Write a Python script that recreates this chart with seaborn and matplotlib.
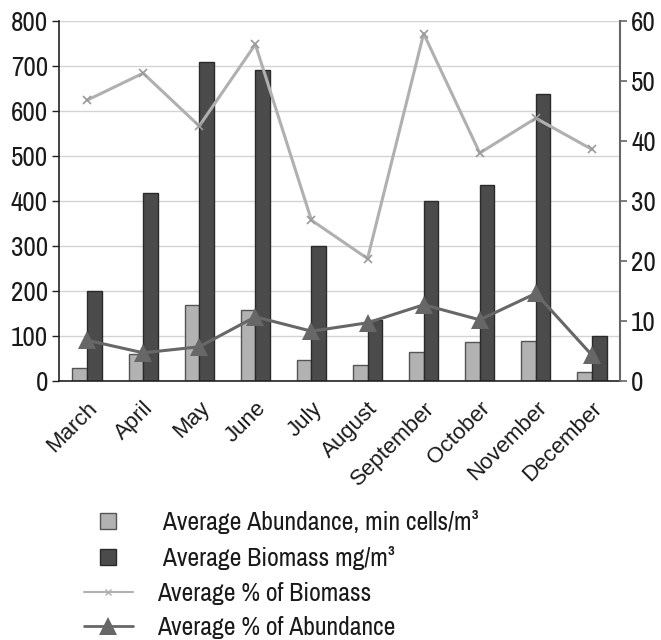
import matplotlib
matplotlib.use("Agg")
import matplotlib.pyplot as plt
from matplotlib.lines import Line2D
import numpy as np
import pandas as pd
import seaborn as sns

months = ["March", "April", "May", "June", "July", "August",
          "September", "October", "November", "December"]
abundance = [28, 60, 170, 158, 47, 35, 64, 86, 90, 20]
biomass = [200, 418, 710, 692, 300, 135, 400, 435, 637, 99]
pct_biomass = [46.8, 51.3, 42.5, 56.1, 26.8, 20.4, 57.9, 38.0, 43.8, 38.6]
pct_abundance = [6.8, 4.7, 5.7, 10.7, 8.3, 9.7, 12.7, 10.2, 14.6, 4.3]

lab_abund = "Average Abundance, min cells/m\u00b3"
lab_biom = "Average Biomass mg/m\u00b3"
lab_pb = "Average % of Biomass"
lab_pa = "Average % of Abundance"

sns.set_theme(style="white")
plt.rcParams["font.family"] = ["Archivo Narrow", "Liberation Sans", "DejaVu Sans"]

df = pd.DataFrame({
    "month": months * 2,
    "value": abundance + biomass,
    "series": [lab_abund] * len(months) + [lab_biom] * len(months),
})

fig = plt.figure(figsize=(6.61, 6.40), dpi=100)
ax = fig.add_axes([59 / 661, 1 - 381 / 640, (620 - 59) / 661, 360 / 640])

light = "#b2b2b2"
dark = "#4b4b4b"
sns.barplot(data=df, x="month", y="value", hue="series", order=months,
            palette=[light, dark], width=0.52, gap=0, dodge=True,
            edgecolor="#2a2a2a", linewidth=1.0, legend=False, ax=ax, zorder=2)
for p in ax.patches[:len(months)]:
    p.set_edgecolor("#555555")

ax.set_ylim(0, 800)
ax.set_xlim(-0.5, len(months) - 0.5)
ax.set_yticks(range(0, 801, 100))
ax.yaxis.grid(True, color="#d4d4d4", linewidth=1.0, zorder=0)
ax.set_axisbelow(True)
ax.set_xlabel("")
ax.set_ylabel("")

ax.set_xticks(range(len(months)))
ax.set_xticklabels(months, rotation=45, ha="right", va="top",
                   rotation_mode="anchor", fontsize=16, color="#1a1a1a",
                   family=["Liberation Sans", "DejaVu Sans"])
ax.tick_params(axis="x", which="major", length=0, pad=12)
ax.set_xticks(np.arange(-0.5, len(months), 1.0), minor=True)
ax.tick_params(axis="x", which="minor", length=5, width=1, color="#222222", direction="out")
ax.tick_params(axis="y", length=5, width=1, color="#222222", direction="out",
               labelsize=19.5, labelcolor="#1a1a1a", pad=3, left=True)

for s in ["top", "right"]:
    ax.spines[s].set_visible(False)
ax.spines["left"].set_color("#222222")
ax.spines["bottom"].set_color("#222222")
ax.spines["left"].set_linewidth(1.2)
ax.spines["bottom"].set_linewidth(1.2)

ax2 = ax.twinx()
x = np.arange(len(months))
sns.lineplot(x=x, y=pct_biomass, ax=ax2, color="#b0b0b0", linewidth=2.2,
             marker="x", markersize=6, markeredgewidth=1.2, markeredgecolor="#9a9a9a")
sns.lineplot(x=x, y=pct_abundance, ax=ax2, color="#676767", linewidth=2.2,
             marker="^", markersize=13, markeredgewidth=0)
ax2.set_ylim(0, 60)
ax2.set_yticks(range(0, 61, 10))
ax2.set_xlim(-0.5, len(months) - 0.5)
ax2.tick_params(axis="y", length=5, width=1.2, color="#666666", direction="out",
                labelsize=19.5, labelcolor="#1a1a1a", pad=3, right=True)
for s in ["top", "left", "bottom"]:
    ax2.spines[s].set_visible(False)
ax2.spines["right"].set_color("#666666")
ax2.spines["right"].set_linewidth(1.5)
ax2.grid(False)

handles = [
    Line2D([], [], linestyle="none", marker="s", markersize=11,
           markerfacecolor=light, markeredgecolor="#555555", markeredgewidth=1),
    Line2D([], [], linestyle="none", marker="s", markersize=11,
           markerfacecolor=dark, markeredgecolor="#2a2a2a", markeredgewidth=1),
    Line2D([], [], color="#b0b0b0", linewidth=1.5, marker="x", markersize=5,
           markeredgecolor="#b0b0b0"),
    Line2D([], [], color="#676767", linewidth=2, marker="^", markersize=13,
           markeredgewidth=0),
]
labels = [" " + lab_abund, " " + lab_biom, lab_pb, lab_pa]
fig.legend(handles, labels, loc="upper left", bbox_to_anchor=(84 / 661, 1 - 510 / 640),
           frameon=False, fontsize=18.5, handlelength=1.9, handletextpad=0.93,
           labelspacing=0.46, borderaxespad=0, borderpad=0, labelcolor="#1a1a1a")

fig.savefig("out.png", dpi=100)
